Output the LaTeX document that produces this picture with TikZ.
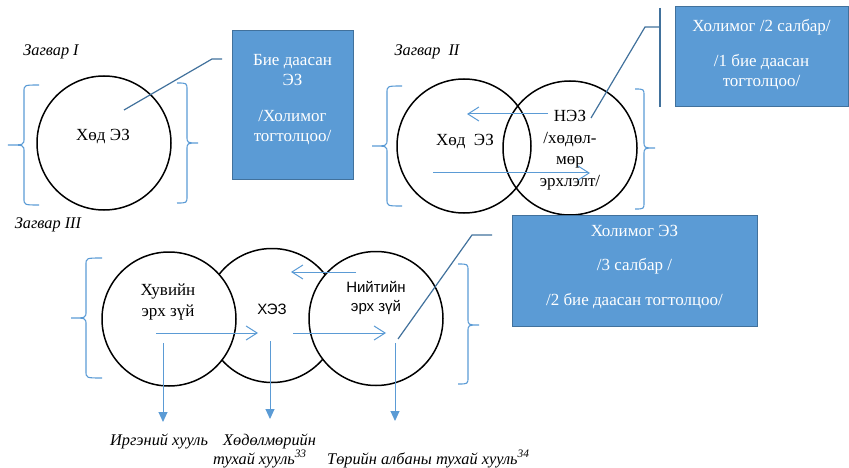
\documentclass[tikz,border=0pt]{standalone}
\usepackage{fontspec}
\setmainfont{Liberation Serif}
\newfontfamily\arialf{Liberation Sans}
\usetikzlibrary{arrows.meta}
\definecolor{boxblue}{HTML}{5B9BD5}
\definecolor{boxedge}{HTML}{41719C}
\newcommand{\myBrace}[6]{%
  \draw[brace] (#1,#4) .. controls (#2,#4) .. (#2,{#4+7}) -- (#2,{#5-7})
    .. controls (#2,#5) .. (#3,#5) .. controls (#2,#5) .. (#2,{#5+7})
    -- (#2,{#6-7}) .. controls (#2,#6) .. (#1,#6);}
\begin{document}
\begin{tikzpicture}[x=1pt,y=-1pt,
  ring/.style={circle, draw=black, line width=1.5pt, minimum size=134pt, inner sep=0pt},
  whitering/.style={ring, fill=white},
  brace/.style={draw=boxblue, line width=1.1pt},
  flow/.style={draw=boxblue, line width=1pt, -{Straight Barb[length=11pt,width=14pt]}},
  down/.style={draw=boxblue, line width=1pt, -{Triangle[length=10pt,width=9pt]}},
  note/.style={fill=boxblue, draw=boxedge, line width=1pt, inner sep=0pt},
  notetext/.style={text=white, align=center, font=\fontsize{17}{20}\selectfont, inner sep=0pt},
  lead/.style={draw=boxedge, line width=1.2pt},
  txt/.style={align=center, font=\fontsize{17}{21}\selectfont, inner sep=0pt},
  stxt/.style={align=center, font=\arialf\fontsize{15}{19}\selectfont, inner sep=0pt},
  lbl/.style={font=\itshape\fontsize{16.3}{20}\selectfont, inner sep=0pt}]
\useasboundingbox (0,0) rectangle (849,468);

% ---------- Model I ----------
\node[lbl] (z1) at (51,52) {Загвар I};
\node[ring] (c1) at (104,143) {};
\node[txt] (t1) at (103,137) {Хөд ЭЗ};
\myBrace{39}{24}{8}{85}{145}{205}
\myBrace{177}{187}{198}{83}{143}{203}
\node[note, minimum width=121pt, minimum height=149pt] (b1) at (292.5,105.5) {};
\node[notetext] (b1t) at (292.5,99.5) {Бие даасан\\ЭЗ\\[16pt]/Холимог\\тогтолцоо/};
\coordinate (k1a) at (124,110);
\coordinate (k1b) at (212,59);
\coordinate (k1c) at (222,59);
\draw[lead] (k1a) -- (k1b) -- (k1c);

% ---------- Model II ----------
\node[lbl] (z2) at (427,52) {Загвар\ \ II};
\node[ring] (c2a) at (464,146) {};
\node[ring] (c2b) at (570,148) {};
\node[txt] (t2a) at (465,142) {Хөд\ \ ЭЗ};
\node[txt, font=\fontsize{17}{21.5}\selectfont] (t2b) at (570,150) {НЭЗ\\/хөдөл-\\мөр\\эрхлэлт/};
\myBrace{402}{387}{372}{86}{146}{206}
\myBrace{635}{644}{655}{89}{148}{209}
\coordinate (f2a) at (548,114);
\coordinate (f2b) at (467,114);
\coordinate (f2c) at (433,173);
\coordinate (f2d) at (590,173);
\draw[flow] (f2a) -- (f2b);
\draw[flow] (f2c) -- (f2d);
\node[note, minimum width=173pt, minimum height=100pt] (b2) at (761.5,57) {};
\node[notetext] (b2t) at (761.5,54.5) {Холимог /2 салбар/\\[15pt]/1 бие даасан\\тогтолцоо/};
\coordinate (k2a) at (591,118);
\coordinate (k2b) at (645,27);
\coordinate (k2c) at (660,27);
\coordinate (k2t) at (660,8);
\coordinate (k2u) at (660,107);
\draw[lead] (k2a) -- (k2b) -- (k2c);
\draw[lead] (k2t) -- (k2u);

% ---------- Model III ----------
\node[lbl] (z3) at (48,225) {Загвар III};
\node[ring] (c3b) at (272,315.5) {};
\node[whitering] (c3a) at (169,319) {};
\node[whitering] (c3c) at (376,318.5) {};
\node[txt] (t3a) at (168,301.5) {Хувийн\\эрх зүй};
\node[stxt] (t3b) at (272,309) {ХЭЗ};
\node[stxt] (t3c) at (376,297.5) {Нийтийн\\эрх зүй};
\myBrace{102}{86}{71}{258}{318}{378}
\myBrace{458}{468}{479}{264}{325}{384}
\coordinate (f3a) at (356,272);
\coordinate (f3b) at (291,272);
\coordinate (f3c) at (156,333);
\coordinate (f3d) at (258,333);
\coordinate (f3e) at (293,333);
\coordinate (f3f) at (386,333);
\draw[flow] (f3a) -- (f3b);
\draw[flow] (f3c) -- (f3d);
\draw[flow] (f3e) -- (f3f);
\node[note, minimum width=245pt, minimum height=111pt] (b3) at (634.5,270.5) {};
\node[notetext] (b3t) at (634.5,267) {Холимог ЭЗ\\[14.5pt]/3 салбар /\\[14.5pt]/2 бие даасан тогтолцоо/};
\coordinate (k3a) at (398,339);
\coordinate (k3b) at (472,235);
\coordinate (k3c) at (492,235);
\draw[lead] (k3a) -- (k3b) -- (k3c);

% down arrows and law labels
\coordinate (d1a) at (163,343);
\coordinate (d1b) at (163,422);
\coordinate (d2a) at (270,341);
\coordinate (d2b) at (270,419);
\coordinate (d3a) at (395,343);
\coordinate (d3b) at (395,421);
\draw[down] (d1a) -- (d1b);
\draw[down] (d2a) -- (d2b);
\draw[down] (d3a) -- (d3b);
\node[lbl, anchor=base west] (l1) at (110,445) {Иргэний хууль};
\node[lbl, anchor=base west] (l2) at (223,445) {Хөдөлмөрийн};
\node[lbl, anchor=base west] (l3) at (213,464) {тухай хууль\textsuperscript{33}};
\node[lbl, anchor=base west] (l4) at (327,464) {Төрийн албаны тухай хууль\textsuperscript{34}};
\end{tikzpicture}
\end{document}
